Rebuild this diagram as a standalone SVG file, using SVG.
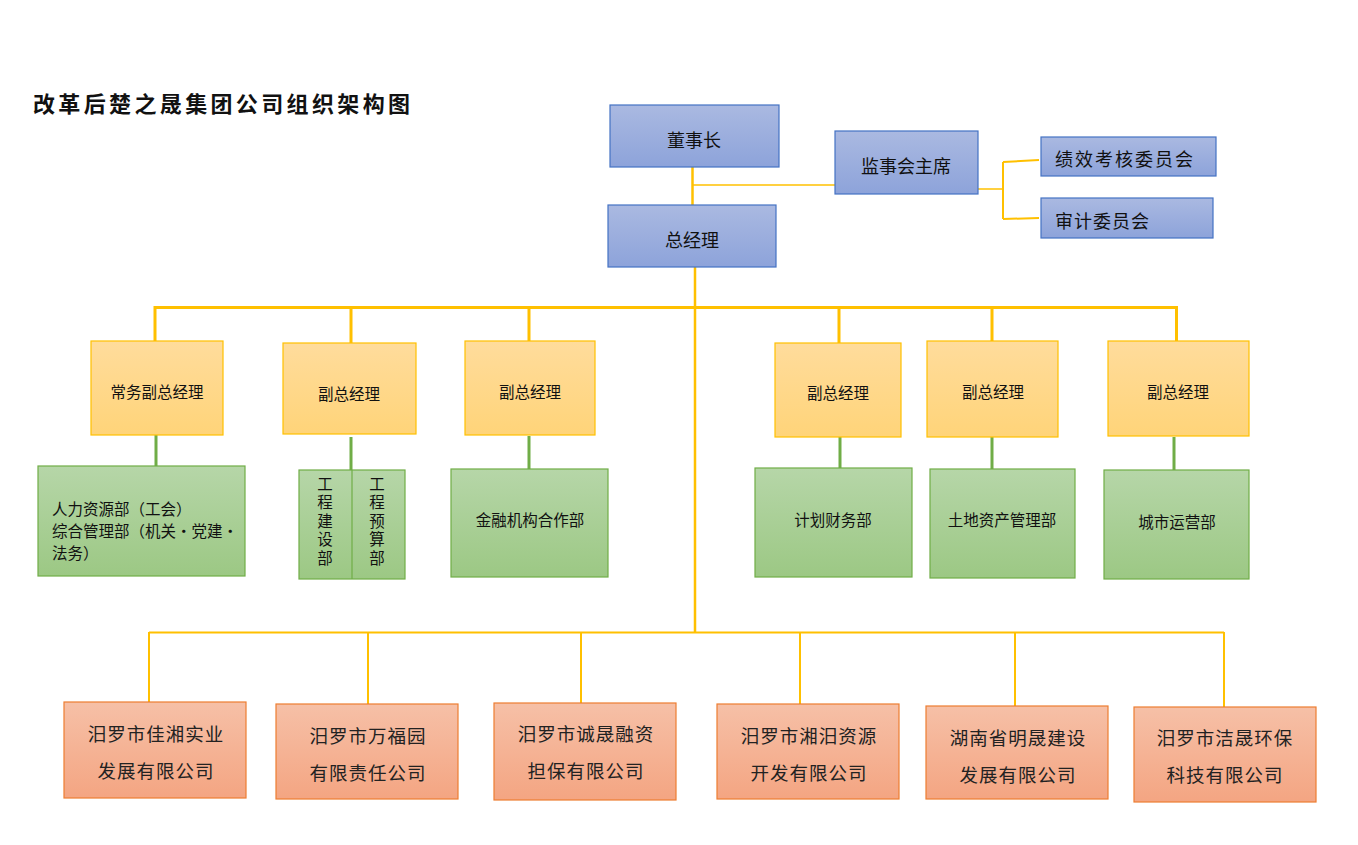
<svg xmlns="http://www.w3.org/2000/svg" width="1358" height="845" viewBox="0 0 1358 845">
<defs>
<linearGradient id="gb" x1="0" y1="0" x2="0" y2="1"><stop offset="0" stop-color="#AAB9E1"/><stop offset="1" stop-color="#8DA3DA"/></linearGradient>
<linearGradient id="gy" x1="0" y1="0" x2="0" y2="1"><stop offset="0" stop-color="#FFDC9C"/><stop offset="1" stop-color="#FFD479"/></linearGradient>
<linearGradient id="gg" x1="0" y1="0" x2="0" y2="1"><stop offset="0" stop-color="#B6D6A8"/><stop offset="1" stop-color="#9CC884"/></linearGradient>
<linearGradient id="go" x1="0" y1="0" x2="0" y2="1"><stop offset="0" stop-color="#F6C0A7"/><stop offset="1" stop-color="#F4A582"/></linearGradient>
</defs>
<style>
text{font-family:"Noto Sans CJK SC","Noto Sans",sans-serif;fill:#111;}
.b{fill:url(#gb);stroke:#4472C4;stroke-width:1.2;}
.y{fill:url(#gy);stroke:#FFC000;stroke-width:1.2;}
.g{fill:url(#gg);stroke:#70AD47;stroke-width:1.2;}
.o{fill:url(#go);stroke:#ED7D31;stroke-width:1.2;}
.t19{font-size:18px;}
.t16{font-size:15.5px;}
.t19o{font-size:18.5px;letter-spacing:1px;fill:#222;}
.c{text-anchor:middle;dominant-baseline:central;}
.l{dominant-baseline:central;}
.v{font-size:15.5px;writing-mode:vertical-rl;letter-spacing:3px;}
.ly{stroke:#FFC000;fill:none;}
.lg{stroke:#70AD47;fill:none;stroke-width:3;}
</style>
<rect width="1358" height="845" fill="#fff"/>
<text x="33" y="102" textLength="377" lengthAdjust="spacing" style="font-size:22px;font-weight:bold;dominant-baseline:central;">改革后楚之晟集团公司组织架构图</text>
<g id="connectors">
<path class="ly" stroke-width="2.5" d="M692.5 167V205"/>
<path class="ly" stroke-width="1.5" d="M692.5 185H835"/>
<path class="ly" stroke-width="1.5" d="M978 189H1003"/>
<path class="ly" stroke-width="2" d="M1003 162V219M1003 162L1039 160M1003 219L1039 218"/>
<path class="ly" stroke-width="2.5" d="M695 267V632"/>
<path class="ly" stroke-width="3" d="M155 307.5H1177.5"/>
<path class="ly" stroke-width="3" d="M155 306V341M351 306V343M529 306V341M839 306V343M992 306V341M1176.5 306V341"/>
<path class="lg" d="M156 435V466M351 437V470M529 436V469M840 437V468M992 437V469M1174 437V470"/>
<path class="ly" stroke-width="1.8" d="M149 632.5H1224"/>
<path class="ly" stroke-width="2" d="M149 632V702M368 632V704M581 632V703M800 632V704M1015 632V706M1224 632V707"/>
</g>
<g id="n_chairman"><rect class="b" x="610" y="105" width="169" height="62"/><text class="t19 c" x="694" y="139">董事长</text></g>
<g id="n_supervisor"><rect class="b" x="835" y="131" width="143" height="63"/><text class="t19 c" x="906" y="165">监事会主席</text></g>
<g id="n_perf"><rect class="b" x="1041" y="137" width="175" height="39"/><text class="t19 l" x="1055" y="158" style="letter-spacing:2px">绩效考核委员会</text></g>
<g id="n_audit"><rect class="b" x="1041" y="198" width="172" height="40"/><text class="t19 l" x="1055" y="220" style="letter-spacing:1px">审计委员会</text></g>
<g id="n_gm"><rect class="b" x="608" y="205" width="168" height="62"/><text class="t19 c" x="692" y="239">总经理</text></g>

<g id="n_vp0"><rect class="y" x="91" y="341" width="132" height="94"/><text class="t16 c" x="157" y="391">常务副总经理</text></g>
<g id="n_vp1"><rect class="y" x="283" y="343" width="133" height="91"/><text class="t16 c" x="349" y="393">副总经理</text></g>
<g id="n_vp2"><rect class="y" x="465" y="341" width="130" height="94"/><text class="t16 c" x="530" y="391">副总经理</text></g>
<g id="n_vp3"><rect class="y" x="775" y="343" width="126" height="94"/><text class="t16 c" x="838" y="392">副总经理</text></g>
<g id="n_vp4"><rect class="y" x="927" y="341" width="131" height="96"/><text class="t16 c" x="993" y="391">副总经理</text></g>
<g id="n_vp5"><rect class="y" x="1108" y="341" width="141" height="95"/><text class="t16 c" x="1178" y="391">副总经理</text></g>

<g id="n_hr"><rect class="g" x="38" y="466" width="207" height="110"/>
<text class="t16 l" x="52" y="508">人力资源部（工会）</text>
<text class="t16 l" x="52" y="530">综合管理部（机关•党建•</text>
<text class="t16 l" x="52" y="552">法务）</text></g>
<g id="n_eng"><rect class="g" x="299" y="470" width="106" height="109"/><path d="M352 470V579" stroke="#70AD47" stroke-width="1.2"/>
<text class="v" x="325" y="476">工程建设部</text>
<text class="v" x="377" y="476">工程预算部</text></g>
<g id="n_fin"><rect class="g" x="451" y="469" width="157" height="108"/><text class="t16 c" x="530" y="519">金融机构合作部</text></g>
<g id="n_plan"><rect class="g" x="755" y="468" width="157" height="109"/><text class="t16 c" x="833" y="519">计划财务部</text></g>
<g id="n_land"><rect class="g" x="930" y="469" width="145" height="109"/><text class="t16 c" x="1002" y="519">土地资产管理部</text></g>
<g id="n_city"><rect class="g" x="1104" y="470" width="145" height="109"/><text class="t16 c" x="1177" y="521">城市运营部</text></g>

<g id="n_c1"><rect class="o" x="64" y="702" width="182" height="96"/><text class="t19o c" x="156" y="733">汨罗市佳湘实业</text><text class="t19o c" x="156" y="770">发展有限公司</text></g>
<g id="n_c2"><rect class="o" x="276" y="704" width="182" height="95"/><text class="t19o c" x="368" y="735">汨罗市万福园</text><text class="t19o c" x="368" y="772">有限责任公司</text></g>
<g id="n_c3"><rect class="o" x="494" y="703" width="182" height="97"/><text class="t19o c" x="586" y="733">汨罗市诚晟融资</text><text class="t19o c" x="586" y="770">担保有限公司</text></g>
<g id="n_c4"><rect class="o" x="717" y="704" width="182" height="95"/><text class="t19o c" x="809" y="735">汨罗市湘汨资源</text><text class="t19o c" x="809" y="772">开发有限公司</text></g>
<g id="n_c5"><rect class="o" x="926" y="706" width="182" height="93"/><text class="t19o c" x="1018" y="737">湖南省明晟建设</text><text class="t19o c" x="1018" y="774">发展有限公司</text></g>
<g id="n_c6"><rect class="o" x="1134" y="707" width="182" height="95"/><text class="t19o c" x="1225" y="737">汨罗市洁晟环保</text><text class="t19o c" x="1225" y="774">科技有限公司</text></g>
</svg>
